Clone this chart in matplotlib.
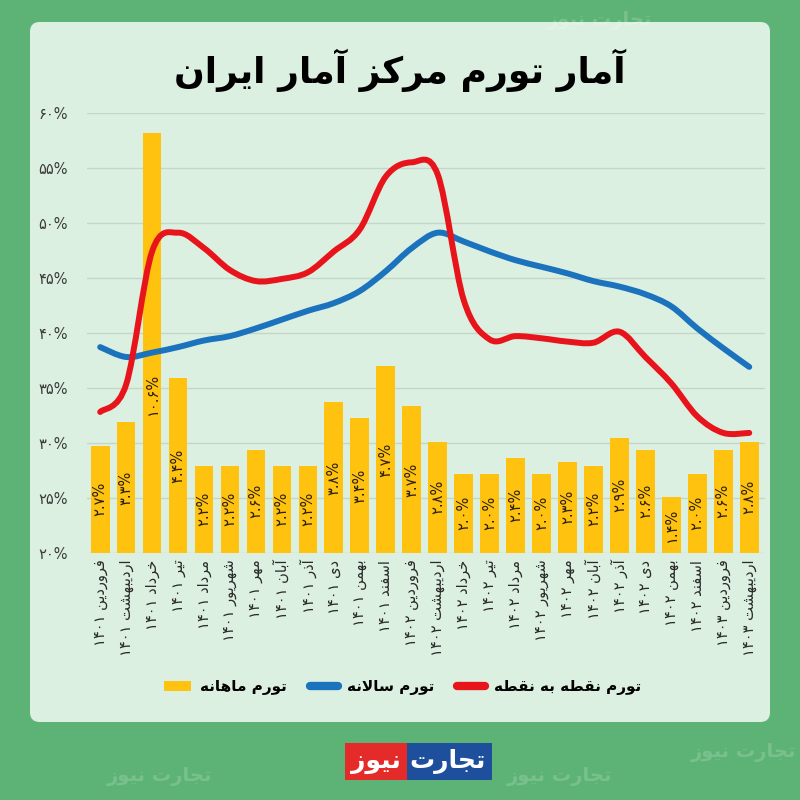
import numpy as np
import matplotlib
matplotlib.use('Agg')
import matplotlib.pyplot as plt
from matplotlib.path import Path
from matplotlib.patches import PathPatch, FancyBboxPatch, Patch
from matplotlib.lines import Line2D

plt.rcParams['font.family'] = ['DejaVu Sans']

# data
months = ['فروردین ۱۴۰۱', 'اردیبهشت ۱۴۰۱', 'خرداد ۱۴۰۱', 'تیر ۱۴۰۱', 'مرداد ۱۴۰۱',
          'شهریور ۱۴۰۱', 'مهر ۱۴۰۱', 'آبان ۱۴۰۱', 'آذر ۱۴۰۱', 'دی ۱۴۰۱', 'بهمن ۱۴۰۱',
          'اسفند ۱۴۰۱', 'فروردین ۱۴۰۲', 'اردیبهشت ۱۴۰۲', 'خرداد ۱۴۰۲', 'تیر ۱۴۰۲',
          'مرداد ۱۴۰۲', 'شهریور ۱۴۰۲', 'مهر ۱۴۰۲', 'آبان ۱۴۰۲', 'آذر ۱۴۰۲', 'دی ۱۴۰۲',
          'بهمن ۱۴۰۲', 'اسفند ۱۴۰۲', 'فروردین ۱۴۰۳', 'اردیبهشت ۱۴۰۳']
monthly = [2.7, 3.3, 10.6, 4.4, 2.2, 2.2, 2.6, 2.2, 2.2, 3.8, 3.4, 4.7, 3.7,
           2.8, 2.0, 2.0, 2.4, 2.0, 2.3, 2.2, 2.9, 2.6, 1.4, 2.0, 2.6, 2.8]
annual = [38.7, 37.8, 38.2, 38.7, 39.3, 39.7, 40.4, 41.2, 42.0, 42.7, 43.8, 45.6, 47.7,
          49.1, 48.3, 47.4, 46.6, 46.0, 45.4, 44.7, 44.2, 43.5, 42.4, 40.4, 38.6, 36.9]
point = [32.8, 35.3, 47.4, 49.1, 47.7, 45.7, 44.7, 44.9, 45.5, 47.4, 49.4, 54.2, 55.5,
         54.4, 43.0, 39.4, 39.7, 39.5, 39.2, 39.1, 40.1, 37.8, 35.4, 32.4, 30.9, 30.9]
yticks = [20, 25, 30, 35, 40, 45, 50, 55, 60]

title = 'آمار تورم مرکز آمار ایران'
lbl_monthly = 'تورم ماهانه'
lbl_annual = 'تورم سالانه'
lbl_point = 'تورم نقطه به نقطه'

# --- minimal persian shaping (matplotlib has no complex text layout) ---
FORMS = {
    'آ': ('\uFE81', '\uFE82', None, None), 'ا': ('\uFE8D', '\uFE8E', None, None),
    'ب': ('\uFE8F', '\uFE90', '\uFE91', '\uFE92'), 'ت': ('\uFE95', '\uFE96', '\uFE97', '\uFE98'),
    'ج': ('\uFE9D', '\uFE9E', '\uFE9F', '\uFEA0'), 'خ': ('\uFEA5', '\uFEA6', '\uFEA7', '\uFEA8'),
    'د': ('\uFEA9', '\uFEAA', None, None), 'ذ': ('\uFEAB', '\uFEAC', None, None),
    'ر': ('\uFEAD', '\uFEAE', None, None), 'ز': ('\uFEAF', '\uFEB0', None, None),
    'س': ('\uFEB1', '\uFEB2', '\uFEB3', '\uFEB4'), 'ش': ('\uFEB5', '\uFEB6', '\uFEB7', '\uFEB8'),
    'ط': ('\uFEC1', '\uFEC2', '\uFEC3', '\uFEC4'), 'ف': ('\uFED1', '\uFED2', '\uFED3', '\uFED4'),
    'ق': ('\uFED5', '\uFED6', '\uFED7', '\uFED8'), 'ک': ('\uFB8E', '\uFB8F', '\uFB90', '\uFB91'),
    'ل': ('\uFEDD', '\uFEDE', '\uFEDF', '\uFEE0'), 'م': ('\uFEE1', '\uFEE2', '\uFEE3', '\uFEE4'),
    'ن': ('\uFEE5', '\uFEE6', '\uFEE7', '\uFEE8'), 'ه': ('\uFEE9', '\uFEEA', '\uFEEB', '\uFEEC'),
    'و': ('\uFEED', '\uFEEE', None, None), 'ی': ('\uFBFC', '\uFBFD', '\uFBFE', '\uFBFF'),
}
LAMALEF = {'ا': ('\uFEFB', '\uFEFC'), 'آ': ('\uFEF5', '\uFEF6')}


def shape_word(w):
    out = []
    i = 0
    n = len(w)
    while i < n:
        c = w[i]
        if c not in FORMS:
            out.append(c)
            i += 1
            continue
        prev = w[i - 1] if i > 0 else None
        join_prev = prev in FORMS and FORMS[prev][2] is not None
        if c == 'ل' and i + 1 < n and w[i + 1] in LAMALEF:
            out.append(LAMALEF[w[i + 1]][1 if join_prev else 0])
            i += 2
            continue
        nxt = w[i + 1] if i + 1 < n else None
        join_next = FORMS[c][2] is not None and nxt in FORMS
        f = FORMS[c]
        if join_prev and join_next:
            out.append(f[3])
        elif join_prev:
            out.append(f[1])
        elif join_next:
            out.append(f[2])
        else:
            out.append(f[0])
        i += 1
    return ''.join(out)


def fa(s):
    words = s.split(' ')
    vis = []
    for w in words:
        if any(ch in FORMS for ch in w):
            vis.append(shape_word(w)[::-1])
        else:
            vis.append(w)
    return ' '.join(vis[::-1])


def fa_num(s):
    return str(s).translate(str.maketrans('0123456789', '۰۱۲۳۴۵۶۷۸۹'))


def smooth_path(xs, ys):
    pts = np.column_stack([xs, ys]).astype(float)
    verts = [pts[0]]
    codes = [Path.MOVETO]
    n = len(pts)
    for i in range(n - 1):
        p0 = pts[i - 1] if i > 0 else pts[i]
        p1, p2 = pts[i], pts[i + 1]
        p3 = pts[i + 2] if i + 2 < n else pts[i + 1]
        verts += [p1 + (p2 - p0) / 6, p2 - (p3 - p1) / 6, p2]
        codes += [Path.CURVE4] * 3
    return Path(verts, codes)


RED = '#e8141c'
BLUE = '#1b73bd'
YEL = '#ffc20e'

fig = plt.figure(figsize=(8, 8), dpi=100)
fig.patch.set_facecolor('#5db375')

panel = FancyBboxPatch((0.0375, 0.0975), 0.925, 0.875, boxstyle='round,pad=0,rounding_size=0.012',
                       transform=fig.transFigure, facecolor='#dcf0e1', edgecolor='none', zorder=-10)
fig.patches.append(panel)

# faint watermarks on the green frame
for (wx, wy) in [(0.75, 0.975), (0.93, 0.06), (0.2, 0.03), (0.7, 0.03)]:
    fig.text(wx, wy, fa('تجارت نیوز'), color='white', alpha=0.18, fontsize=14,
             fontweight='bold', ha='center', va='center', zorder=-5)

rect = [0.109, 0.309, 0.847, 0.55]
x = np.arange(len(months))

ax = fig.add_axes(rect, zorder=1)
ax.patch.set_visible(False)
ax.set_ylim(20, 60)
ax.set_xlim(-0.5, 25.6)
ax.set_yticks(yticks)
ax.set_yticklabels([fa_num(t) + '%' for t in yticks], fontsize=10.5, color='#3a3a3a')
ax.grid(axis='y', color='#c3d6c8', lw=1)
ax.set_xticks(x)
ax.set_xticklabels([fa(m) for m in months], rotation=90, fontsize=10.5, color='#2a2a2a')
ax.tick_params(axis='x', length=0, pad=5)
ax.tick_params(axis='y', length=0, pad=14)
for s in ax.spines.values():
    s.set_visible(False)

axb = fig.add_axes(rect, sharex=ax, zorder=2)
axb.patch.set_visible(False)
axb.set_ylim(0, 11.1)
axb.bar(x, monthly, width=0.72, color=YEL, zorder=2)
for xi, v in zip(x, monthly):
    axb.text(xi, min(v / 2, 4.0), fa_num(v) + '%', rotation=90, ha='center', va='center',
             fontsize=10.5, color='#2b2010')
axb.axis('off')

axl = fig.add_axes(rect, sharex=ax, zorder=3)
axl.patch.set_visible(False)
axl.set_ylim(20, 60)
axl.add_patch(PathPatch(smooth_path(x, annual), fill=False, edgecolor=BLUE, lw=4.3,
                        capstyle='round', joinstyle='round'))
axl.add_patch(PathPatch(smooth_path(x, point), fill=False, edgecolor=RED, lw=4.3,
                        capstyle='round', joinstyle='round'))
axl.axis('off')

fig.text(0.5, 0.912, fa(title), ha='center', va='center', fontsize=26, fontweight='bold', color='black')

handles = [Patch(facecolor=YEL, edgecolor='none'),
           Line2D([], [], color=BLUE, lw=6, solid_capstyle='round'),
           Line2D([], [], color=RED, lw=6, solid_capstyle='round')]
fig.legend(handles, [fa(lbl_monthly), fa(lbl_annual), fa(lbl_point)], loc='center',
           bbox_to_anchor=(0.503, 0.141), ncol=3, frameon=False,
           handlelength=1.8, handletextpad=0.6, columnspacing=1.5,
           prop={'weight': 'bold', 'size': 11})

fig.text(0.56, 0.048, fa('تجارت'), ha='center', va='center', fontsize=18, fontweight='bold',
         color='white', bbox=dict(boxstyle='square,pad=0.25', facecolor='#1d4f9c', edgecolor='none'))
fig.text(0.47, 0.048, fa('نیوز'), ha='center', va='center', fontsize=18, fontweight='bold',
         color='white', bbox=dict(boxstyle='square,pad=0.25', facecolor='#e52a2a', edgecolor='none'))

fig.savefig('out.png', dpi=100, facecolor=fig.get_facecolor())
